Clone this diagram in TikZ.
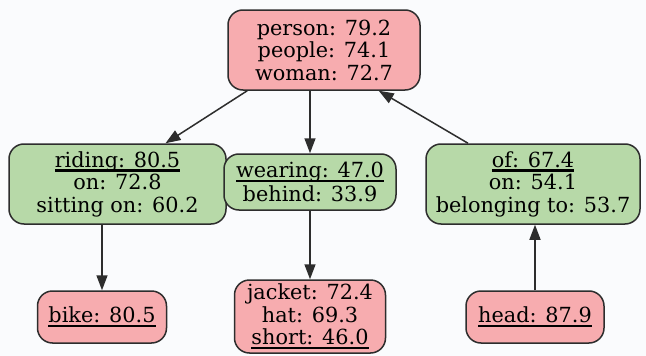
\documentclass[tikz,border=0pt]{standalone}
\usepackage{fontspec}
\setmainfont{DejaVu Serif}
\usepackage{xcolor}
\definecolor{objectpink}{RGB}{247, 172, 175}
\definecolor{relationgreen}{RGB}{183, 217, 168}
\definecolor{edgegray}{RGB}{45, 45, 45}
\definecolor{pagebg}{RGB}{250, 251, 253}
\usepackage{tikz}
\usetikzlibrary{arrows.meta, positioning, calc}
\newcommand{\bestlabel}[1]{\begingroup\setbox0\hbox{#1}\leavevmode\rlap{\rule[-4.6pt]{\wd0}{2.4pt}}\box0\endgroup}

\begin{document}
\begin{tikzpicture}[x=1pt, y=-1pt,
    graphnode/.style={rectangle, rounded corners=15pt, draw=edgegray, line width=1.5pt, align=center, inner sep=2pt, font=\fontsize{20.8}{22.5}\selectfont},
    objnode/.style={graphnode, fill=objectpink},
    relnode/.style={graphnode, fill=relationgreen},
    link/.style={draw=edgegray, line width=1.5pt, -{Triangle[length=15pt, width=11pt]}}
  ]
    \fill[pagebg] (0, 0) rectangle (646, 356);
    \node[objnode, minimum width=192pt, minimum height=80pt] (person) at (324, 50) {person: 79.2\\people: 74.1\\woman: 72.7};
    \node[relnode, minimum width=217pt, minimum height=80pt] (riding) at (117.5, 184) {\bestlabel{riding: 80.5}\\on: 72.8\\sitting on: 60.2};
    \node[relnode, minimum width=172pt, minimum height=56pt] (wearing) at (310, 182) {\bestlabel{wearing: 47.0}\\[1pt]behind: 33.9};
    \node[relnode, minimum width=214pt, minimum height=80pt] (of) at (533, 184) {\bestlabel{of: 67.4}\\on: 54.1\\belonging to: 53.7};
    \node[objnode, minimum width=129pt, minimum height=52pt] (bike) at (102, 317) {\bestlabel{bike: 80.5}};
    \node[objnode, minimum width=151pt, minimum height=73pt] (jacket) at (310, 316.5) {jacket: 72.4\\hat: 69.3\\\bestlabel{short: 46.0}};
    \node[objnode, minimum width=138pt, minimum height=52pt] (head) at (535, 317) {\bestlabel{head: 87.9}};
    \draw[link] ([xshift=20pt]person.south west) -- ([xshift=48pt]riding.north);
    \draw[link] (wearing.north |- person.south) -- (wearing.north);
    \draw[link] ([xshift=-65pt]of.north) -- ([xshift=-42pt]person.south east);
    \draw[link] (bike.north |- riding.south) -- (bike.north);
    \draw[link] (wearing.south) -- (jacket.north);
    \draw[link] (head.north) -- (head.north |- of.south);
  \end{tikzpicture}
\end{document}
